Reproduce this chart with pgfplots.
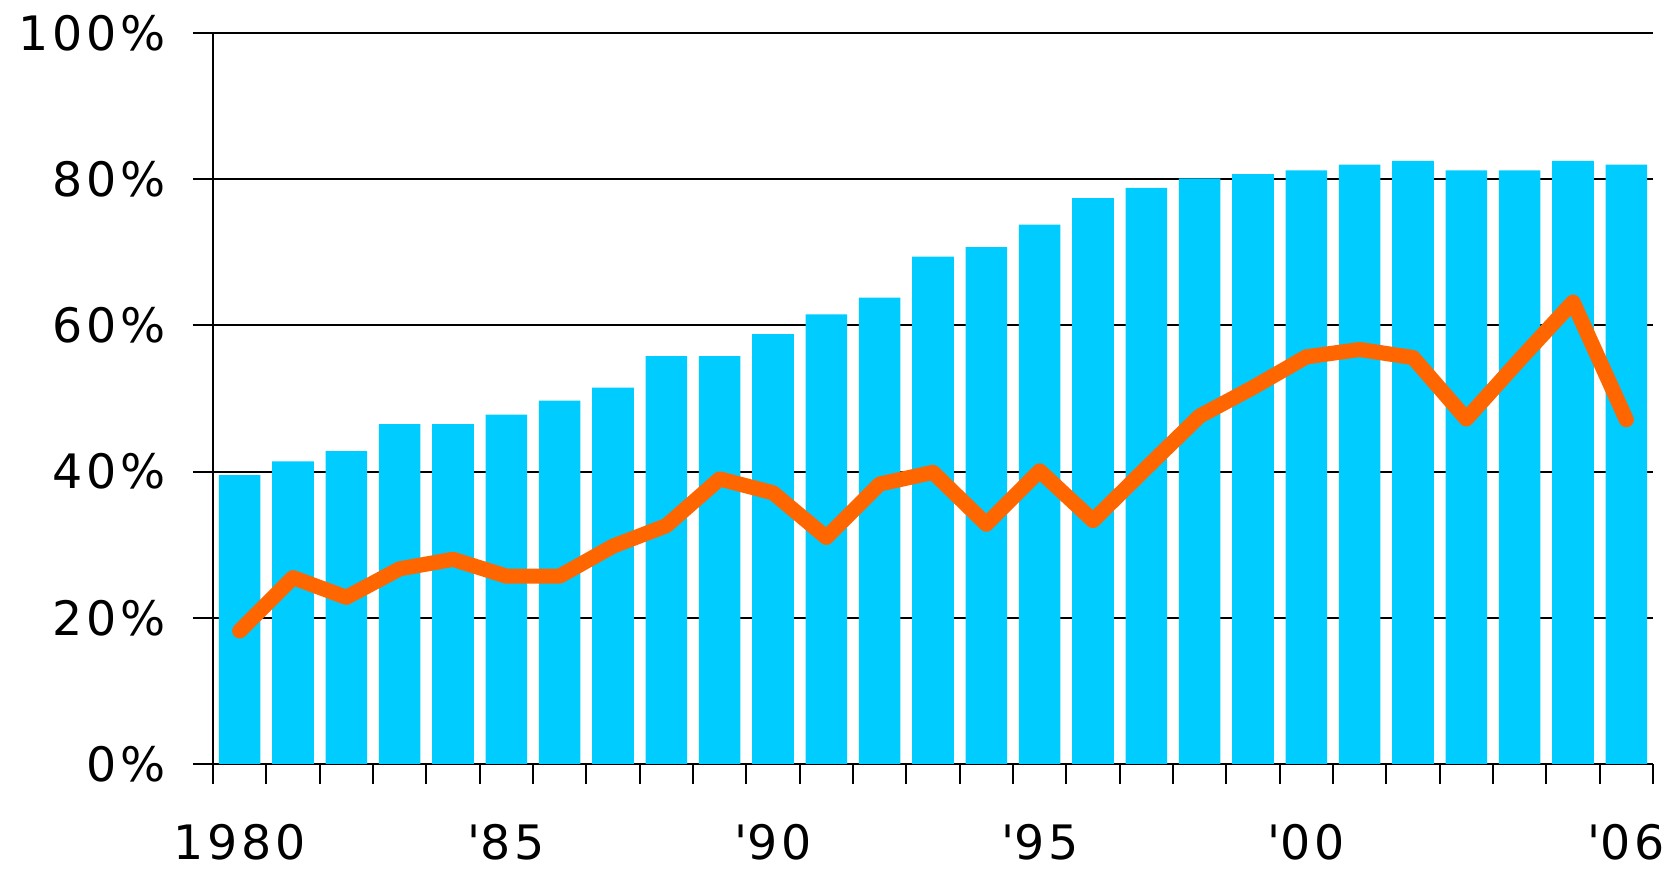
\documentclass[border=0pt]{standalone}
\usepackage{fontspec}
\setmainfont{DejaVu Sans}
\newfontfamily\tickfont{DejaVu Sans}[LetterSpace=8]
\usepackage{pgfplots}
\usepackage{pgfplotstable}
\pgfplotsset{compat=1.18}
\definecolor{barcyan}{HTML}{00CCFF}
\definecolor{lineorange}{HTML}{FF6600}

% idx 0 = 1980 ... 26 = 2006
\pgfplotstableread{
idx bar  line
0   39.5 18.2
1   41.4 25.5
2   42.8 22.8
3   46.5 26.7
4   46.5 28.0
5   47.8 25.7
6   49.7 25.7
7   51.5 29.8
8   55.8 32.6
9   55.8 39.0
10  58.8 37.1
11  61.5 31.0
12  63.8 38.3
13  69.4 39.9
14  70.7 32.8
15  73.8 40.1
16  77.4 33.3
17  78.8 40.5
18  80.1 47.6
19  80.7 51.5
20  81.2 55.7
21  82.0 56.7
22  82.5 55.6
23  81.2 47.2
24  81.2 55.3
25  82.5 63.2
26  82.0 47.1
}\datatable

\begin{document}
\begin{tikzpicture}
\useasboundingbox (-21.3mm,-10.8mm) rectangle (145.8mm,76.4mm);
\begin{axis}[
  at={(0,0)}, anchor=south west,
  width=144mm, height=73.1mm, scale only axis,
  xmin=-0.5, xmax=26.5, ymin=0, ymax=100,
  axis x line*=bottom, axis y line*=left,
  axis line style={black, line width=0.6pt, -},
  tick align=outside,
  major tick length=2mm,
  tick style={black, line width=0.6pt},
  ytick={0,20,...,100},
  yticklabels={0\%,20\%,40\%,60\%,80\%,100\%},
  ymajorgrids, grid style={black, line width=0.6pt},
  xtick={-0.5,0.5,...,26.5},
  xticklabels={},
  extra x ticks={0,5,10,15,20,26},
  extra x tick labels={1980,\textquotesingle85,\textquotesingle90,\textquotesingle95,\textquotesingle00,\textquotesingle06},
  extra x tick style={major tick length=0pt, grid=none,
    xticklabel style={inner sep=0pt, yshift=-6.0mm}},
  ticklabel style={font=\tickfont\fontsize{13.5}{16}\selectfont},
  yticklabel style={xshift=-1.5mm},
]
\addplot[ybar, bar width=0.78, fill=barcyan, draw=none] table[x=idx, y=bar] {\datatable};
\addplot[lineorange, line width=4.3pt, line cap=round, line join=round] table[x=idx, y=line] {\datatable};
\end{axis}
\end{tikzpicture}
\end{document}
